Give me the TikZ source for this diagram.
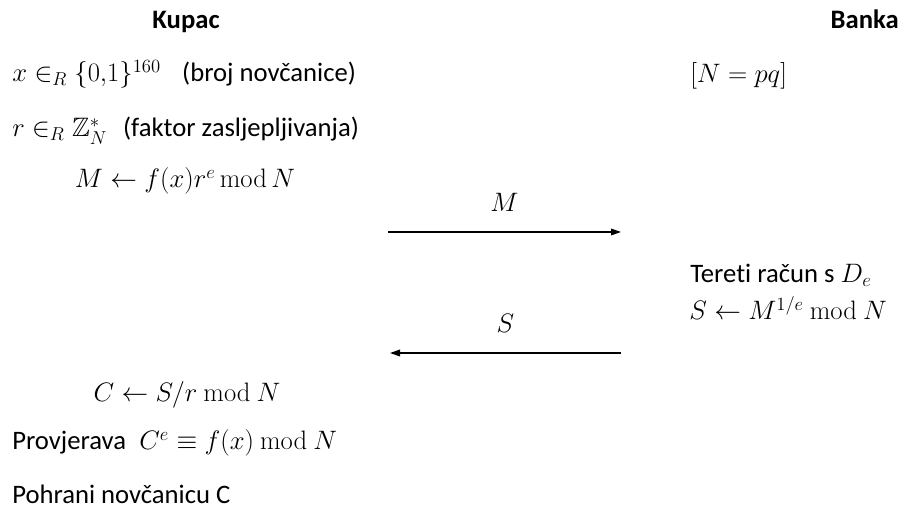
\documentclass[tikz,border=0pt]{standalone}
\usepackage{fix-cm}
\usepackage{amsmath}
\usepackage{amssymb}
\usepackage[no-math]{fontspec}
\setmainfont{Carlito}[Ligatures=NoCommon]
\usetikzlibrary{arrows.meta}

\begin{document}
\begin{tikzpicture}[x=0.75pt,y=-0.75pt,
    every node/.style={font=\fontsize{20}{24}\selectfont, inner sep=0pt},
    party/.style={font=\fontsize{20}{24}\selectfont\bfseries, anchor=base},
    step left/.style={anchor=base west},
    step mid/.style={anchor=base},
    msg/.style={-{Triangle[length=7.5pt,width=5pt]}, line width=0.9pt}]
        \useasboundingbox (0,0) rectangle (901,509);

        % we place the two parties
        \node[party] (kupac) at (186,29) {Kupac};
        \node[party, anchor=base east] (banka) at (899,29) {Banka};

        % we write the customer side
        \node[step left] (broj) at (12,82) {$x \in_R \{0{,}1\}^{160}$\hspace{16pt}(broj novčanice)};
        \node[step left] (faktor) at (12,137) {$r \in_R \mathbb{Z}_N^{*}$\hspace{12pt}(faktor zasljepljivanja)};
        \node[step mid] (poruka) at (185,188) {$M \leftarrow f(x)r^{e}\,\mathrm{mod}\,N$};

        % we write the bank side
        \node[step left] (modul) at (690,83) {$[N = pq]$};
        \node[step left] (tereti) at (690,283) {Tereti račun s $D_e$};
        \node[step left] (potpis) at (689,320) {$S \leftarrow M^{1/e}\ \mathrm{mod}\ N$};

        % we draw the messages
        \coordinate (mfrom) at (388,232);
        \coordinate (mto) at (621,232);
        \coordinate (sfrom) at (621,353);
        \coordinate (sto) at (390,353);
        \draw[msg] (mfrom) -- (mto) node[midway, above=15pt] (mlabel) {$M$};
        \draw[msg] (sfrom) -- (sto) node[midway, above=15pt] (slabel) {$S$};

        % we write the final customer steps
        \node[step mid] (otkrij) at (187,402) {$C \leftarrow S/r\ \mathrm{mod}\ N$};
        \node[step left] (provjera) at (12,450) {Provjerava\hspace{10pt}$C^{e} \equiv f(x)\ \mathrm{mod}\ N$};
        \node[step left] (pohrana) at (12,504) {Pohrani novčanicu C};
    \end{tikzpicture}
\end{document}
